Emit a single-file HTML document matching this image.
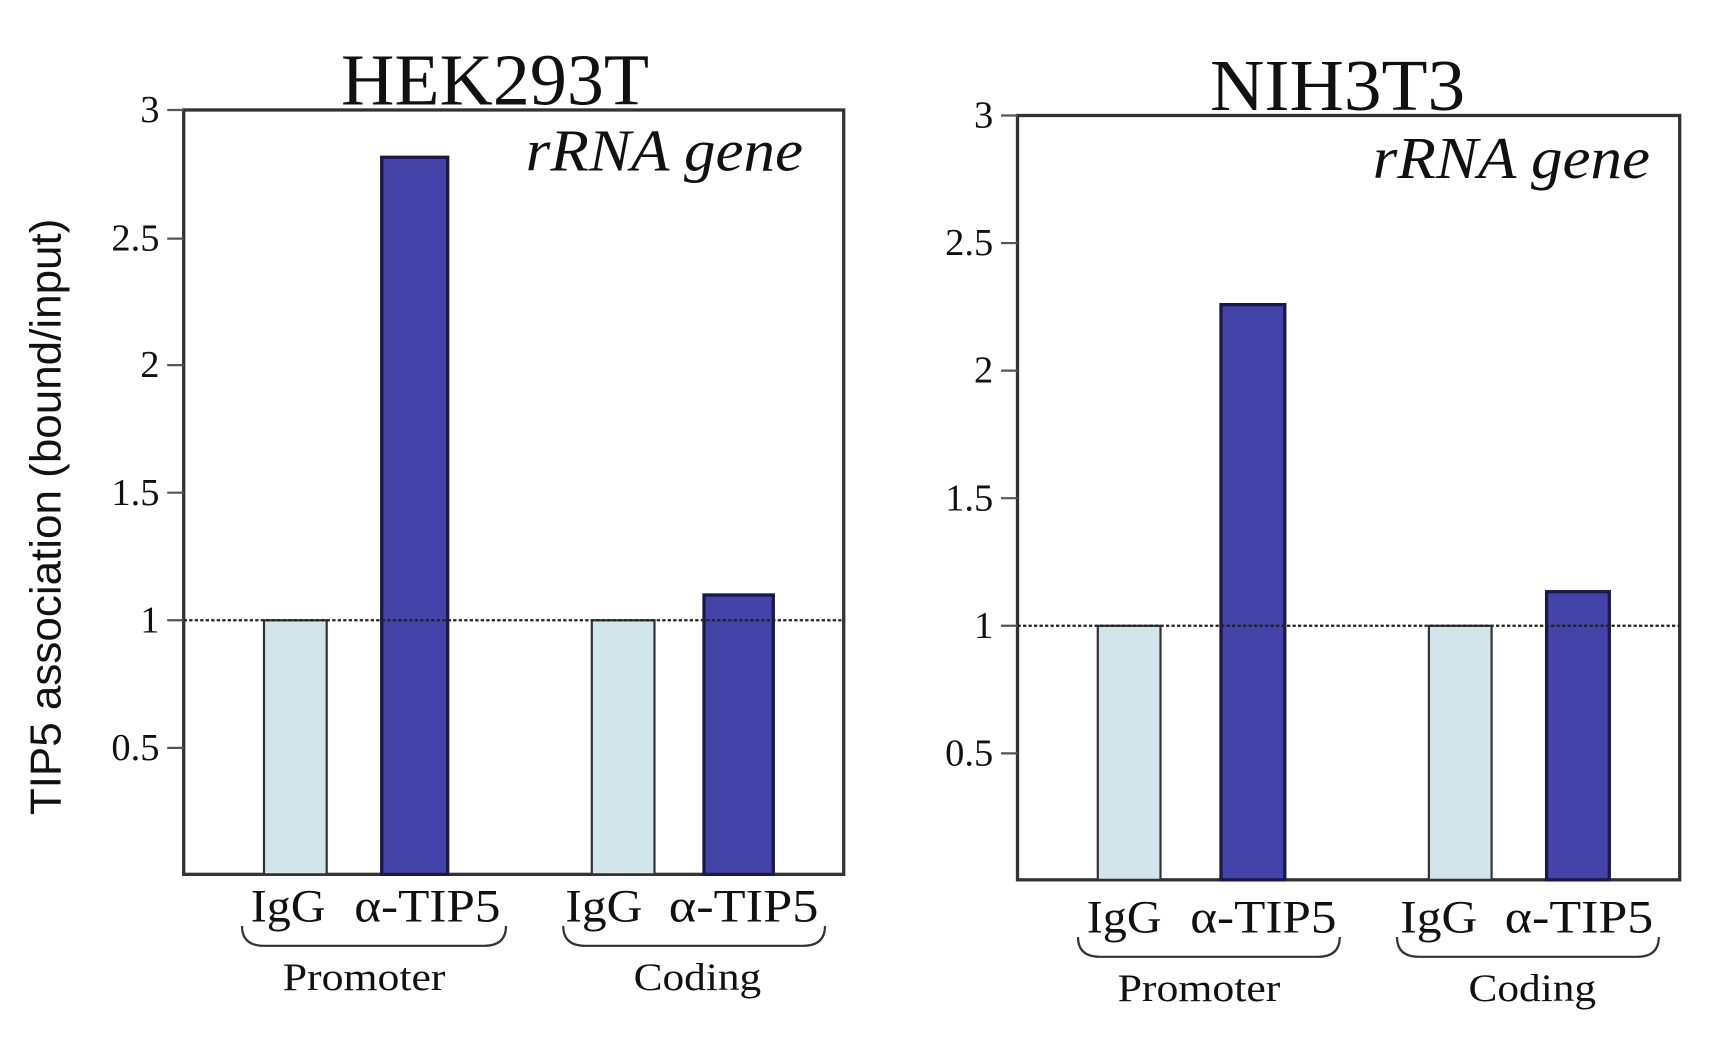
<!DOCTYPE html>
<html><head><style>html,body{margin:0;padding:0;background:#fff;width:1716px;height:1047px;overflow:hidden}</style></head>
<body>
<svg width="1716" height="1047" viewBox="0 0 1560 952" preserveAspectRatio="none" xmlns="http://www.w3.org/2000/svg">
<g font-family="Liberation Serif, serif" fill="#111">
<text transform="translate(55,470) rotate(-90)" text-anchor="middle" font-family="Liberation Sans, sans-serif" font-size="40">TIP5 association (bound/input)</text>

<!-- Left panel -->
<text x="310" y="95" font-size="66" textLength="280" lengthAdjust="spacingAndGlyphs">HEK293T</text>
<rect x="167" y="100" width="600" height="695" fill="none" stroke="#333" stroke-width="3"/>
<text x="478" y="155" font-size="54" font-style="italic" textLength="252" lengthAdjust="spacingAndGlyphs">rRNA gene</text>
<g font-size="35" text-anchor="end">
<text x="145" y="111">3</text><text x="145" y="228">2.5</text><text x="145" y="343">2</text>
<text x="145" y="459">1.5</text><text x="145" y="575">1</text><text x="145" y="691">0.5</text>
</g>
<g stroke="#555" stroke-width="2">
<line x1="152" y1="100" x2="167" y2="100"/><line x1="152" y1="217" x2="167" y2="217"/><line x1="152" y1="332" x2="167" y2="332"/>
<line x1="152" y1="448" x2="167" y2="448"/><line x1="152" y1="564" x2="167" y2="564"/><line x1="152" y1="680" x2="167" y2="680"/>
</g>
<rect x="240" y="564" width="57" height="231" fill="#d2e5ea" stroke="#333" stroke-width="2"/>
<rect x="347" y="143" width="60" height="652" fill="#4343a8" stroke="#1a1a4a" stroke-width="3"/>
<rect x="538" y="564" width="57" height="231" fill="#d2e5ea" stroke="#333" stroke-width="2"/>
<rect x="640" y="541" width="63" height="254" fill="#4343a8" stroke="#1a1a4a" stroke-width="3"/>
<line x1="167" y1="564" x2="767" y2="564" stroke="#222" stroke-width="2" stroke-dasharray="3,2"/>
<g font-size="42">
<text x="228" y="838" textLength="68" lengthAdjust="spacingAndGlyphs">IgG</text><text x="322" y="838" textLength="133" lengthAdjust="spacingAndGlyphs">α-TIP5</text>
<text x="514" y="838" textLength="70" lengthAdjust="spacingAndGlyphs">IgG</text><text x="608" y="838" textLength="136" lengthAdjust="spacingAndGlyphs">α-TIP5</text>
</g>
<g fill="none" stroke="#333" stroke-width="2">
<path d="M220,842 Q220,860 240,860 L440,860 Q460,860 460,842"/>
<path d="M512,842 Q512,860 532,860 L730,860 Q750,860 750,842"/>
</g>
<g font-size="36">
<text x="257" y="900" textLength="148" lengthAdjust="spacingAndGlyphs">Promoter</text><text x="576" y="900" textLength="116" lengthAdjust="spacingAndGlyphs">Coding</text>
</g>

<!-- Right panel -->
<text x="1100" y="100" font-size="66" textLength="232" lengthAdjust="spacingAndGlyphs">NIH3T3</text>
<rect x="925" y="105" width="602" height="695" fill="none" stroke="#333" stroke-width="3"/>
<text x="1248" y="162" font-size="54" font-style="italic" textLength="252" lengthAdjust="spacingAndGlyphs">rRNA gene</text>
<g font-size="35" text-anchor="end">
<text x="903" y="116">3</text><text x="903" y="232">2.5</text><text x="903" y="348">2</text>
<text x="903" y="464">1.5</text><text x="903" y="580">1</text><text x="903" y="696">0.5</text>
</g>
<g stroke="#555" stroke-width="2">
<line x1="910" y1="105" x2="925" y2="105"/><line x1="910" y1="221" x2="925" y2="221"/><line x1="910" y1="337" x2="925" y2="337"/>
<line x1="910" y1="453" x2="925" y2="453"/><line x1="910" y1="569" x2="925" y2="569"/><line x1="910" y1="685" x2="925" y2="685"/>
</g>
<rect x="998" y="569" width="57" height="231" fill="#d2e5ea" stroke="#333" stroke-width="2"/>
<rect x="1110" y="277" width="58" height="523" fill="#4343a8" stroke="#1a1a4a" stroke-width="3"/>
<rect x="1299" y="569" width="57" height="231" fill="#d2e5ea" stroke="#333" stroke-width="2"/>
<rect x="1406" y="538" width="57" height="262" fill="#4343a8" stroke="#1a1a4a" stroke-width="3"/>
<line x1="925" y1="569" x2="1527" y2="569" stroke="#222" stroke-width="2" stroke-dasharray="3,2"/>
<g font-size="42">
<text x="988" y="848" textLength="68" lengthAdjust="spacingAndGlyphs">IgG</text><text x="1082" y="848" textLength="133" lengthAdjust="spacingAndGlyphs">α-TIP5</text>
<text x="1273" y="848" textLength="70" lengthAdjust="spacingAndGlyphs">IgG</text><text x="1368" y="848" textLength="135" lengthAdjust="spacingAndGlyphs">α-TIP5</text>
</g>
<g fill="none" stroke="#333" stroke-width="2">
<path d="M980,852 Q980,870 1000,870 L1198,870 Q1218,870 1218,852"/>
<path d="M1270,852 Q1270,870 1290,870 L1488,870 Q1508,870 1508,852"/>
</g>
<g font-size="36">
<text x="1016" y="910" textLength="148" lengthAdjust="spacingAndGlyphs">Promoter</text><text x="1335" y="910" textLength="116" lengthAdjust="spacingAndGlyphs">Coding</text>
</g>
</g>
</svg>
</body></html>
